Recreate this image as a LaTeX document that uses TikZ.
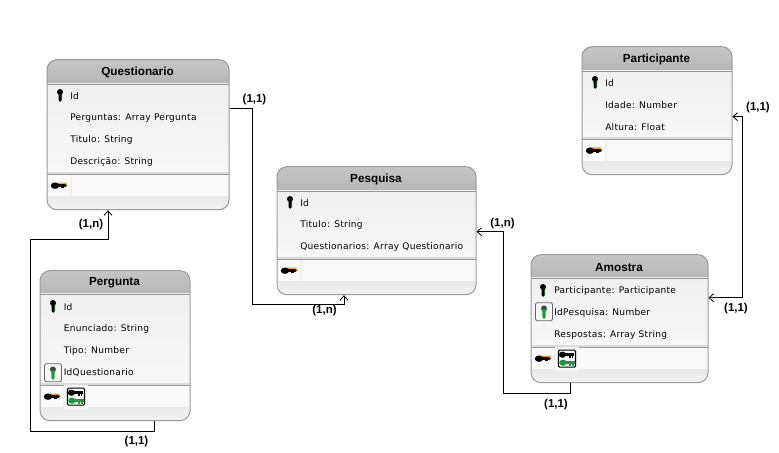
\documentclass[tikz,border=0pt]{standalone}
\usepackage{fontspec}
\setmainfont{DejaVu Sans}
\newfontfamily\labelfont{Liberation Sans}
\newfontfamily\attrfont[LetterSpace=3]{DejaVu Sans}
\usetikzlibrary{arrows.meta,calc}
\definecolor{hdtop}{HTML}{C6C6C6}
\definecolor{hdbot}{HTML}{B6B6B6}
\definecolor{edgeg}{HTML}{9A9A9A}
\definecolor{keyor}{HTML}{F0A020}
\definecolor{keygr}{HTML}{1E9A3C}
\tikzset{
  x=0.75pt,y=-0.75pt,
  entitybox/.style={draw=edgeg,line width=0.75pt,rounded corners=7.5pt,inner sep=0pt,fill=none},
  titletext/.style={font=\labelfont\bfseries\fontsize{8.8}{10}\selectfont,inner sep=0pt,text=black},
  attrtext/.style={font=\attrfont\fontsize{6.8}{8}\selectfont,inner sep=0pt,anchor=west,text=black},
  cardtext/.style={font=\labelfont\bfseries\fontsize{8.6}{10}\selectfont,inner sep=0pt,text=black},
  link/.style={draw=black,line width=0.75pt},
  tip/.style={-{Straight Barb[length=3.4pt,width=6pt,line width=0.6pt]}},
  pics/vkey/.style={code={
    \fill[keygr] (0,-1) -- (2.2,-1) -- (2.2,5) -- (0.6,7) -- (0,7) -- cycle;
    \fill[black] (0,-2.7) ellipse [x radius=3,y radius=3];
    \fill[black] (-1.4,-1) -- (1.3,-1) -- (1.3,5.5) -- (0.2,7) -- (-1.4,5.5) -- cycle;
  }},
  pics/fkey/.style={code={
    \fill[keygr] (0,-3) ellipse [x radius=3,y radius=3.2];
    \fill[keygr] (-1.7,-1) -- (1.7,-1) -- (1.7,5) -- (0,7.5) -- (-1.7,5) -- cycle;
    \fill[black!75] (0,-4) ellipse [x radius=2.6,y radius=2];
  }},
  pics/hkey/.style={code={
    \fill[keyor] (-4,-3.2) -- (7,-3.2) -- (8,-2) -- (8,0) -- (6,-1) -- (-4,-1) -- cycle;
    \fill[black] (-4,0) ellipse [x radius=4.2,y radius=3.2];
    \fill[black] (-2,-1.5) rectangle (6,1.3);
    \fill[black] (6,-1.5) -- (8,0) -- (6,1.3) -- cycle;
    \fill[black] (2,1) rectangle (4.5,2.6);
  }},
  pics/bkey/.style={code={
    \fill[#1] (-3.5,0) ellipse [x radius=3.6,y radius=3.1];
    \fill[#1] (-1,-1.4) rectangle (8,1.4);
    \fill[#1] (2.5,1) rectangle (4.5,2.8);
    \fill[#1] (5.5,1) rectangle (7.2,2.8);
  }},
}
% {name}{x1}{y1}{x2}{y2}{yhead}{ysep}{title}
\newcommand{\entitybody}[8]{
  \begin{scope}
    \clip[rounded corners=7.5pt] (#2,#3) rectangle (#4,#5);
    \fill[white] (#2,#3) rectangle (#4,#5);
    \shade[top color=hdtop,bottom color=hdbot] (#2,#3) rectangle (#4,#6);
    \shade[top color=white!94!black,bottom color=white!97!black] (#2,#6) rectangle (#4,#7);
    \fill[black!42] (#2,#6) rectangle (#4,#6+1);
    \fill[black!14] (#2,#7-2) rectangle (#4,#7);
    \fill[black!40] (#2,#7) rectangle (#4,#7+1);
    \fill[white!98!black] (#2,#7+1) rectangle (#4,#7+23);
    \fill[black!6] (#2+23,#7+1) rectangle (#2+25,#7+23);
    \shade[top color=black!8,bottom color=black!5] (#2,#7+23) rectangle (#4,#5);
  \end{scope}
  \node[entitybox,minimum width={(#4-#2)*0.75pt},minimum height={(#5-#3)*0.75pt}] (#1) at ({(#2+#4)/2},{(#3+#5)/2}) {};
  \node[titletext] (#1title) at ({(#2+#4)/2-0.5},{(#3+#6)/2+1}) {#8};
}
\newcommand{\fkbox}[2]{
  \draw[draw=black!60,fill=black!3,rounded corners=1.5pt,line width=0.6pt] (#1-8.5,#2-9) rectangle (#1+8.5,#2+9);
  \pic at (#1,#2) {fkey};
}
\newcommand{\fkicon}[2]{
  \fill[white!96!black] (#1-12,#2-12) rectangle (#1+12,#2+12);
  \draw[fill=white,line width=0.8pt,rounded corners=0.8pt] (#1-8.5,#2-8.5) rectangle (#1+8.5,#2+8.5);
  \pic at (#1-1,#2-4) {bkey=black};
  \pic at (#1-0.5,#2+4) {bkey=keygr};
}
\begin{document}
\begin{tikzpicture}
\useasboundingbox (0,-0.7) rectangle (779,452.3);
\fill[white] (0,-0.7) rectangle (779,452.3);

% Questionario
\entitybody{qst}{47}{59}{229}{209}{83}{173}{Questionario}
\pic at (60,94) {vkey};
\node[attrtext] (qst1) at (70,95.2) {Id};
\node[attrtext] (qst2) at (70,117.2) {Perguntas: Array Pergunta};
\node[attrtext] (qst3) at (70,139.2) {Titulo: String};
\node[attrtext] (qst4) at (70,161.2) {Descrição: String};
\pic at (59,185) {hkey};

% Pergunta
\entitybody{prg}{40}{270}{190}{420}{293}{384}{Pergunta}
\pic at (53,305) {vkey};
\node[attrtext] (prg1) at (63.5,306.2) {Id};
\node[attrtext] (prg2) at (63.5,328.2) {Enunciado: String};
\node[attrtext] (prg3) at (63.5,350.2) {Tipo: Number};
\fkbox{53}{372}
\node[attrtext] (prg4) at (63.5,372.2) {IdQuestionario};
\pic at (52,396) {hkey};
\fkicon{76}{396}

% Pesquisa
\entitybody{psq}{277}{166}{476}{294}{190}{258}{Pesquisa}
\pic at (290,201) {vkey};
\node[attrtext] (psq1) at (300,202.2) {Id};
\node[attrtext] (psq2) at (300,224.2) {Titulo: String};
\node[attrtext] (psq3) at (300,246.2) {Questionarios: Array Questionario};
\pic at (289,270) {hkey};

% Participante
\entitybody{ptc}{582}{46}{732}{174}{70}{138}{Participante}
\pic at (595,81) {vkey};
\node[attrtext] (ptc1) at (605,82.2) {Id};
\node[attrtext] (ptc2) at (605,104.2) {Idade: Number};
\node[attrtext] (ptc3) at (605,126.2) {Altura: Float};
\pic at (594,150) {hkey};

% Amostra
\entitybody{ams}{531}{254}{708}{382}{277}{346}{Amostra}
\pic at (543,289) {vkey};
\node[attrtext] (ams1) at (554,290.2) {Participante: Participante};
\fkbox{544}{311}
\node[attrtext] (ams2) at (554,312.2) {IdPesquisa: Number};
\node[attrtext] (ams3) at (554,334.2) {Respostas: Array String};
\pic at (543,358) {hkey};
\fkicon{567}{358}

% Connector ends on the entity borders
\coordinate (qstOut) at (qst.east |- 0,108);
\coordinate (psqIn) at (344,0 |- psq.south);
\coordinate (prgOut) at (154,0 |- prg.south);
\coordinate (qstIn) at (108,0 |- qst.south);
\coordinate (amsOut) at (570,0 |- ams.south);
\coordinate (psqSide) at (psq.east |- 0,231);
\coordinate (amsSide) at (ams.east |- 0,297);
\coordinate (ptcSide) at (ptc.east |- 0,116);

\draw[link,tip] (qstOut) -- (252,108) -- (252,304) -- (344,304) -- (psqIn);
\draw[link,tip] (prgOut) -- (154,431) -- (30,431) -- (30,239) -- (108,239) -- (qstIn);
\draw[link,tip] (amsOut) -- (570,393) -- (503,393) -- (503,231) -- (psqSide);
\draw[link,tip] (742.5,297) -- (amsSide);
\draw[link,tip] (742.5,297) -- (742.5,116) -- (ptcSide);

% Cardinalities
\node[cardtext] (c1) at (254.5,98.5) {(1,1)};
\node[cardtext] (c2) at (324.5,309.5) {(1,n)};
\node[cardtext] (c3) at (91,224) {(1,n)};
\node[cardtext] (c4) at (136.5,441) {(1,1)};
\node[cardtext] (c5) at (502.5,223) {(1,n)};
\node[cardtext] (c6) at (556,404) {(1,1)};
\node[cardtext] (c7) at (736,308) {(1,1)};
\node[cardtext] (c8) at (758,107) {(1,1)};
\end{tikzpicture}
\end{document}
